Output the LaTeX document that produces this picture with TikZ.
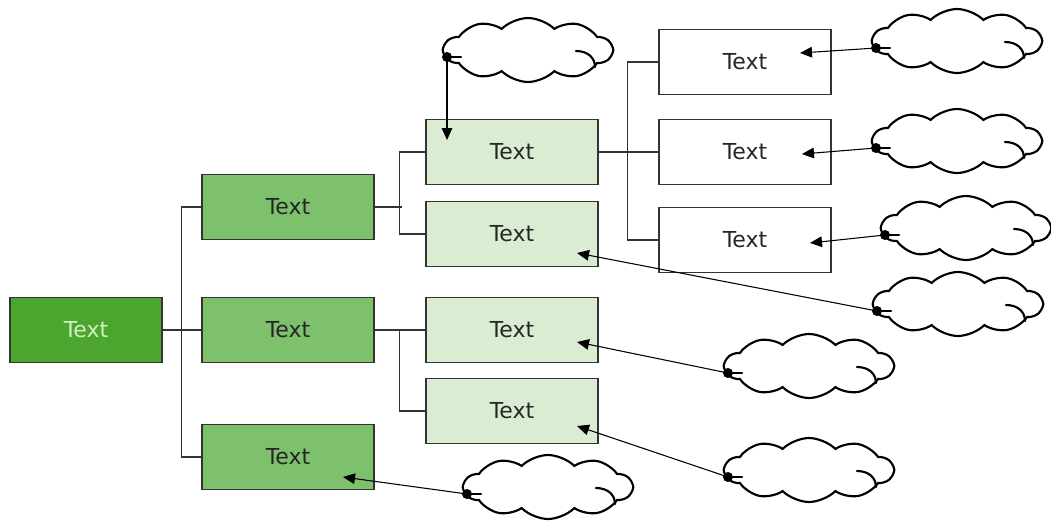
\documentclass[tikz,border=0pt]{standalone}
\usepackage{fontspec}
\setmainfont{DejaVu Sans}
\usetikzlibrary{shapes.symbols,arrows.meta,calc}

\definecolor{rootgreen}{RGB}{76,165,46}
\definecolor{roottext}{RGB}{206,240,190}
\definecolor{midgreen}{RGB}{125,193,108}
\definecolor{palegreen}{RGB}{218,237,211}

\begin{document}
\begin{tikzpicture}[x=0.75pt,y=-0.75pt]
\tikzstyle{size}=[minimum width=129pt, minimum height=49pt, inner sep=0pt, anchor=center]

\tikzstyle{box}=[size,rectangle,draw=black!80,line width=1.1pt,text=black!85,font=\fontsize{16.5}{19}\selectfont]
\tikzstyle{rootbox}=[box,minimum width=114pt,fill=rootgreen,text=roottext]
\tikzstyle{firstbox}=[box,fill=midgreen]
\tikzstyle{secondbox}=[box,fill=palegreen]
\tikzstyle{thirdbox}=[box,fill=white]
\tikzstyle{bubble}=[cloud,cloud puffs=10,cloud puff arc=90,aspect=2.6,draw=black,line width=1.6pt,fill=white,minimum width=126pt,minimum height=48pt,inner sep=0pt]
\tikzstyle{link}=[draw=black!80,line width=1.1pt]
\tikzstyle{pointer}=[draw=black,line width=0.8pt,-{Triangle[length=9pt,width=8pt]}]
\tikzstyle{curl}=[line width=1.6pt,line cap=round]

\useasboundingbox (0,0) rectangle (1051,522);

% tree boxes
\node [rootbox] at (86,330) (root) {Text};

\node [firstbox] at (288,207) (l1a) {Text};
\node [firstbox] at (288,330) (l1b) {Text};
\node [firstbox] at (288,457) (l1c) {Text};

\node [secondbox] at (512,152) (l2a) {Text};
\node [secondbox] at (512,234) (l2b) {Text};
\node [secondbox] at (512,330) (l2c) {Text};
\node [secondbox] at (512,411) (l2d) {Text};

\node [thirdbox] at (745,62) (l3a) {Text};
\node [thirdbox] at (745,152) (l3b) {Text};
\node [thirdbox] at (745,240) (l3c) {Text};

% tree links
\draw [link] (root.east) -- (l1b.west);
\draw [link] (l1a.west) -- ++(-20,0) |- (l1c.west);
\draw [link] (l1a.east) -- ++(27,0);
\draw [link] (l2a.west) -- ++(-26,0) |- (l2b.west);
\draw [link] (l1b.east) -- (l2c.west);
\draw [link] (l2c.west) -- ++(-26,0) |- (l2d.west);
\draw [link] (l2a.east) -- (l3b.west);
\draw [link] (l3a.west) -- ++(-31,0) |- (l3c.west);

% clouds
\node [bubble] at (528,50) (clA) {};
\node [bubble] at (957,41) (clE) {};
\node [bubble] at (957,141) (clF) {};
\node [bubble] at (966,228) (clG) {};
\node [bubble] at (958,304) (clB) {};
\node [bubble] at (809,366) (clC) {};
\node [bubble] at (809,470) (clD) {};
\node [bubble] at (548,487) (clL) {};

\foreach \c in {clA,clE,clF,clG,clB,clC,clD,clL} {
  \draw [curl] ($(\c)+(-81,7)$) -- ++(14,0);
  \draw [curl] ($(\c)+(48,1)$) .. controls ($(\c)+(60,1)$) and ($(\c)+(67,8)$) .. ($(\c)+(67,17)$);
  \fill ($(\c)+(-81,7)$) circle (5);
}

% pointers from the clouds
\draw [pointer] ($(clA)+(-81,7)$) -- ($(l2a)+(-65,-12)$);
\draw [pointer] ($(clE)+(-81,7)$) -- ($(l3a)+(55,-9)$);
\draw [pointer] ($(clF)+(-81,7)$) -- ($(l3b)+(57,2)$);
\draw [pointer] ($(clG)+(-81,7)$) -- ($(l3c)+(65,3)$);
\draw [pointer] ($(clB)+(-81,7)$) -- ($(l2b)+(65,19)$);
\draw [pointer] ($(clC)+(-81,7)$) -- ($(l2c)+(65,12)$);
\draw [pointer] ($(clD)+(-81,7)$) -- ($(l2d)+(65,15)$);
\draw [pointer] ($(clL)+(-81,7)$) -- ($(l1c)+(55,20)$);
\end{tikzpicture}
\end{document}
